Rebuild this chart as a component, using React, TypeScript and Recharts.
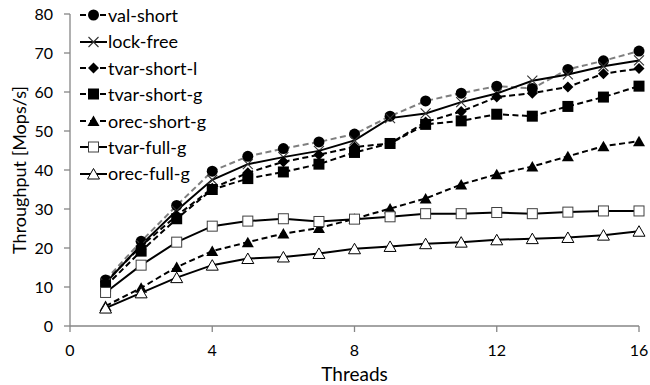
import React from 'react';
import { LineChart, Line, XAxis, YAxis, Legend } from 'recharts';

// ── Data ──────────────────────────────────────────────────────────────────
const threads = [1, 2, 3, 4, 5, 6, 7, 8, 9, 10, 11, 12, 13, 14, 15, 16];
const valShort = [11.8, 21.7, 30.9, 39.7, 43.5, 45.5, 47.2, 49.2, 53.8, 57.7, 59.7, 61.5, 60.9, 65.8, 68.0, 70.5];
const lockFree = [11.0, 20.8, 29.6, 37.5, 41.5, 43.3, 44.9, 47.6, 53.3, 54.5, 57.4, 59.6, 62.9, 64.5, 66.6, 68.1];
const tvarShortL = [11.3, 20.5, 28.3, 35.3, 39.3, 42.1, 43.9, 45.9, 46.8, 52.3, 55.0, 58.7, 59.7, 61.3, 64.7, 66.0];
const tvarShortG = [10.2, 19.2, 27.5, 35.0, 37.8, 39.5, 41.5, 44.5, 46.8, 51.7, 52.6, 54.3, 53.8, 56.3, 58.7, 61.5];
const orecShortG = [5.1, 9.8, 15.1, 19.2, 21.5, 23.7, 25.1, 27.5, 30.1, 32.7, 36.3, 38.9, 40.9, 43.5, 46.1, 47.4];
const tvarFullG = [8.6, 15.6, 21.5, 25.6, 26.9, 27.5, 26.8, 27.4, 28.0, 28.8, 28.8, 29.1, 28.8, 29.2, 29.5, 29.5];
const orecFullG = [4.6, 8.5, 12.4, 15.6, 17.3, 17.7, 18.6, 19.8, 20.4, 21.1, 21.5, 22.1, 22.4, 22.7, 23.3, 24.3];

const xTicks = [0, 4, 8, 12, 16];
const yTicks = [0, 10, 20, 30, 40, 50, 60, 70, 80];

type MarkerKind = 'circle' | 'x' | 'diamond' | 'square' | 'triangle' | 'squareOpen' | 'triangleOpen';

interface SeriesDef {
  key: string;
  name: string;
  values: number[];
  stroke: string;
  dash?: string;
  marker: MarkerKind;
}

const DASH = '6 3.5';

const SERIES: SeriesDef[] = [
  { key: 'valShort', name: 'val-short', values: valShort, stroke: '#7f7f7f', dash: DASH, marker: 'circle' },
  { key: 'lockFree', name: 'lock-free', values: lockFree, stroke: '#000', marker: 'x' },
  { key: 'tvarShortL', name: 'tvar-short-l', values: tvarShortL, stroke: '#000', dash: DASH, marker: 'diamond' },
  { key: 'tvarShortG', name: 'tvar-short-g', values: tvarShortG, stroke: '#000', dash: DASH, marker: 'square' },
  { key: 'orecShortG', name: 'orec-short-g', values: orecShortG, stroke: '#000', dash: DASH, marker: 'triangle' },
  { key: 'tvarFullG', name: 'tvar-full-g', values: tvarFullG, stroke: '#000', marker: 'squareOpen' },
  { key: 'orecFullG', name: 'orec-full-g', values: orecFullG, stroke: '#000', marker: 'triangleOpen' },
];

const rows = threads.map((t, i) => {
  const row: Record<string, number> = { threads: t };
  for (const s of SERIES) row[s.key] = s.values[i];
  return row;
});

const FONT = 'Lato, "Open Sans", sans-serif';
const AXIS_GREY = '#868686';

function Marker({ kind, cx, cy }: { kind: MarkerKind; cx: number; cy: number }) {
  switch (kind) {
    case 'circle':
      return <circle cx={cx} cy={cy} r={5.5} fill="#000" />;
    case 'x':
      return (
        <path
          d={`M${cx - 5},${cy - 5}L${cx + 5},${cy + 5}M${cx - 5},${cy + 5}L${cx + 5},${cy - 5}`}
          stroke="#333"
          strokeWidth={1.1}
          fill="none"
        />
      );
    case 'diamond':
      return <path d={`M${cx},${cy - 5.5}L${cx + 5.5},${cy}L${cx},${cy + 5.5}L${cx - 5.5},${cy}Z`} fill="#000" />;
    case 'square':
      return <rect x={cx - 5.5} y={cy - 5.5} width={11} height={11} fill="#000" />;
    case 'squareOpen':
      return <rect x={cx - 5} y={cy - 5} width={10} height={10} fill="#fff" stroke="#404040" strokeWidth={1} />;
    case 'triangle':
      return <path d={`M${cx},${cy - 5.5}L${cx + 6},${cy + 5}L${cx - 6},${cy + 5}Z`} fill="#000" />;
    case 'triangleOpen':
      return (
        <path
          d={`M${cx},${cy - 5.5}L${cx + 6},${cy + 5}L${cx - 6},${cy + 5}Z`}
          fill="#fff"
          stroke="#000"
          strokeWidth={1}
        />
      );
  }
  return null;
}

function renderDot(kind: MarkerKind) {
  return (props: any) => {
    const { cx, cy, index } = props;
    if (cx == null || cy == null) return <g key={`d-${index}`} />;
    return (
      <g key={`d-${index}`}>
        <Marker kind={kind} cx={cx} cy={cy} />
      </g>
    );
  };
}

function LegendContent() {
  return (
    <div style={{ fontFamily: FONT, fontSize: 18, color: '#000' }}>
      {SERIES.map((s) => (
        <div key={s.key} style={{ display: 'flex', alignItems: 'center', height: 26.4 }}>
          <svg width={27} height={16} style={{ display: 'block' }}>
            <line
              x1={0}
              y1={8}
              x2={27}
              y2={8}
              stroke="#000"
              strokeWidth={2}
              strokeDasharray={s.dash ? '6 4' : undefined}
            />
            <Marker kind={s.marker} cx={13.5} cy={8} />
          </svg>
          <span style={{ marginLeft: 1, lineHeight: '26.4px' }}>{s.name}</span>
        </div>
      ))}
    </div>
  );
}

export default function App() {
  return (
    <div style={{ position: 'absolute', left: 0, top: 0, width: 650, height: 385, background: '#fff' }}>
      <LineChart
        width={650}
        height={385}
        data={rows}
        margin={{ top: 14, right: 11, left: 0, bottom: 0 }}
        style={{ fontFamily: FONT }}
      >
        <XAxis
          dataKey="threads"
          type="number"
          domain={[0, 16]}
          ticks={xTicks}
          height={59}
          tickSize={6}
          tickMargin={13}
          axisLine={{ stroke: AXIS_GREY, strokeWidth: 1.3 }}
          tickLine={{ stroke: AXIS_GREY, strokeWidth: 1.3 }}
          tick={{ fill: '#000', fontSize: 16, fontFamily: FONT }}
          label={{ value: 'Threads', position: 'insideBottom', offset: 4, fill: '#000', fontSize: 19, fontFamily: FONT }}
        />
        <YAxis
          type="number"
          domain={[0, 80]}
          ticks={yTicks}
          width={70}
          tickSize={6}
          tickMargin={11}
          axisLine={{ stroke: AXIS_GREY, strokeWidth: 1.3 }}
          tickLine={{ stroke: AXIS_GREY, strokeWidth: 1.3 }}
          tick={{ fill: '#000', fontSize: 16, fontFamily: FONT }}
          label={{
            value: 'Throughput [Mops/s]',
            angle: -90,
            position: 'insideLeft',
            offset: 20,
            fill: '#000',
            fontSize: 18,
            fontFamily: FONT,
            style: { textAnchor: 'middle' },
          }}
        />
        <Legend
          layout="vertical"
          align="center"
          verticalAlign="middle"
          wrapperStyle={{ left: 80, top: 2, width: 'auto', height: 'auto' }}
          content={() => <LegendContent />}
        />
        {SERIES.map((s) => (
          <Line
            key={s.key}
            dataKey={s.key}
            name={s.name}
            type="linear"
            stroke={s.stroke}
            strokeWidth={2}
            strokeDasharray={s.dash}
            dot={renderDot(s.marker)}
            activeDot={false}
            isAnimationActive={false}
          />
        ))}
      </LineChart>
    </div>
  );
}
